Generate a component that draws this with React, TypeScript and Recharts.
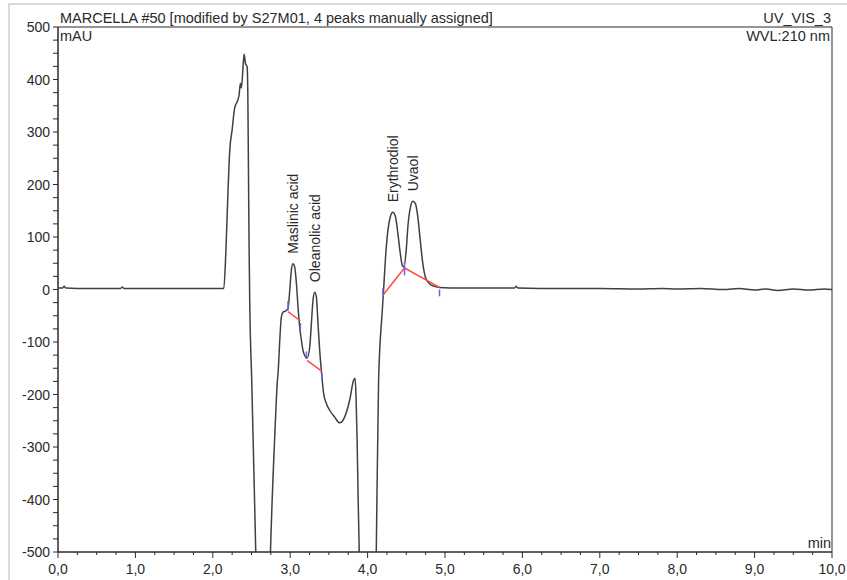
import React from 'react';
import {
  ComposedChart,
  Line,
  Scatter,
  XAxis,
  YAxis,
  ReferenceArea,
  ReferenceLine,
} from 'recharts';

// retention time (min) and signal (mAU)
const times = [
  0.0, 0.06, 0.08, 0.1, 0.4, 0.81, 0.83, 0.85, 1.3, 1.7, 2.1, 2.142,
  2.168, 2.197, 2.219, 2.249, 2.284, 2.314, 2.339, 2.357, 2.37, 2.391, 2.404, 2.422,
  2.443, 2.452, 2.461, 2.468, 2.477, 2.503, 2.555, 2.6, 2.7, 2.745, 2.8, 2.835,
  2.843, 2.865, 2.886, 2.907, 2.942, 2.972, 2.994, 3.015, 3.036, 3.058, 3.08, 3.101,
  3.123, 3.145, 3.165, 3.2, 3.217, 3.252, 3.274, 3.294, 3.316, 3.338, 3.359, 3.381,
  3.406, 3.432, 3.467, 3.51, 3.574, 3.639, 3.703, 3.768, 3.819, 3.838, 3.85, 3.865,
  3.878, 3.892, 3.92, 4.08, 4.112, 4.142, 4.19, 4.206, 4.232, 4.262, 4.293, 4.326,
  4.361, 4.391, 4.422, 4.448, 4.468, 4.499, 4.52, 4.551, 4.585, 4.619, 4.649, 4.68,
  4.714, 4.748, 4.8, 4.865, 4.929, 5.2, 5.6, 5.9, 5.92, 5.94, 6.5, 7.0,
  7.5, 7.8, 8.0, 8.3, 8.6, 8.8, 9.0, 9.15, 9.3, 9.5, 9.7, 9.9, 10.0,
];
const signal = [
  3, 3, 6, 3, 2, 2, 5, 2, 2, 2, 2, 2,
  69, 189, 265, 303, 347, 357, 370, 393, 384, 424, 448, 431,
  424, 380, 221, 94, -21, -174, -500, -780, -780, -500, -281, -173,
  -160, -97, -52, -43, -41, -36, -2, 37, 49, 43, 12, -33,
  -72, -97, -116, -129, -131, -110, -64, -21, -5, -14, -64, -116,
  -160, -198, -217, -230, -243, -254, -243, -211, -173, -169, -200, -290,
  -400, -500, -800, -800, -500, -173, -40, -2, 62, 112, 138, 147,
  138, 107, 69, 46, 43, 75, 119, 155, 168, 163, 138, 94,
  49, 23, 11, 6, 4, 3, 3, 3, 6, 3, 2, 2,
  1, 2, 1, 2, 0, 2, -1, 1, -2, 1, -1, 1, 0,
];

const peakNames = ['Maslinic acid', 'Oleanolic acid', 'Erythrodiol', 'Uvaol'];
const peakTimes = [3.036, 3.316, 4.326, 4.585];
const peakHeights = [49, -5, 147, 168];

// integration baselines (red) and peak delimiters (blue)
const baselines = [
  { t1: 2.972, v1: -42, t2: 3.132, v2: -60 },
  { t1: 3.217, v1: -135, t2: 3.411, v2: -156 },
  { t1: 4.197, v1: -11, t2: 4.477, v2: 41 },
  { t1: 4.477, v1: 41, t2: 4.929, v2: 4 },
];
const delimiters = [
  { t: 2.972, top: -22, bottom: -40 },
  { t: 3.132, top: -64, bottom: -76 },
  { t: 3.209, top: -118, bottom: -132 },
  { t: 3.411, top: -160, bottom: -172 },
  { t: 4.197, top: 2, bottom: -10 },
  { t: 4.477, top: 52, bottom: 27 },
  { t: 4.929, top: 0, bottom: -13 },
];

const xMajor = [0, 1, 2, 3, 4, 5, 6, 7, 8, 9, 10];
const yMajor = [-500, -400, -300, -200, -100, 0, 100, 200, 300, 400, 500];

const xTicks = xMajor.flatMap((m) => (m < 10 ? [m, m + 0.25, m + 0.5, m + 0.75] : [m]));
const yTicks = yMajor.flatMap((m) => (m < 500 ? [m, m + 25, m + 50, m + 75] : [m]));

const trace = times.map((t, i) => ({ t, v: signal[i] }));
const peaks = peakNames.map((name, i) => ({ t: peakTimes[i], v: peakHeights[i], name }));

const FONT = '"Liberation Sans", Arial, Helvetica, sans-serif';
const INK = '#2a2a2a';

const XTick = (props: any) => {
  const { x, y, payload } = props;
  const major = Number.isInteger(payload.value);
  return (
    <g>
      <line x1={x} x2={x} y1={y} y2={y + (major ? 6 : 3)} stroke={INK} />
      {major && (
        <text x={x} y={y + 22} textAnchor="middle" fontSize={14} fontFamily={FONT} fill={INK}>
          {payload.value.toFixed(1).replace('.', ',')}
        </text>
      )}
    </g>
  );
};

const YTick = (props: any) => {
  const { x, y, payload } = props;
  const major = payload.value % 100 === 0;
  return (
    <g>
      <line x1={x - 5} x2={x} y1={y} y2={y} stroke={INK} />
      {major && (
        <text x={x - 8} y={y + 5} textAnchor="end" fontSize={14} fontFamily={FONT} fill={INK}>
          {payload.value}
        </text>
      )}
    </g>
  );
};

const PeakLabel = (props: any) => {
  const { cx, cy, payload } = props;
  const x = cx;
  const y = cy - 10;
  return (
    <text
      x={x}
      y={y}
      transform={`rotate(-90 ${x} ${y})`}
      dominantBaseline="central"
      fontSize={14}
      fontFamily={FONT}
      fill={INK}
    >
      {payload.name}
    </text>
  );
};

export default function App() {
  return (
    <div style={{ position: 'absolute', left: 0, top: 0, background: '#fff' }}>
      <ComposedChart
        width={847}
        height={580}
        data={trace}
        margin={{ top: 27, right: 15, bottom: 0, left: 0 }}
      >
        <rect x={9} y={4} width={900} height={700} fill="none" stroke="#b8b8b8" />
        <XAxis
          type="number"
          dataKey="t"
          domain={[0, 10]}
          ticks={xTicks}
          interval={0}
          allowDataOverflow
          height={28}
          tickSize={0}
          tickMargin={0}
          tickLine={false}
          tick={XTick}
          stroke={INK}
        />
        <YAxis
          type="number"
          domain={[-500, 500]}
          ticks={yTicks}
          interval={0}
          allowDataOverflow
          width={58}
          tickSize={0}
          tickMargin={0}
          tickLine={false}
          tick={YTick}
          stroke={INK}
        />
        <ReferenceArea x1={0} x2={10} y1={-500} y2={500} fill="none" stroke={INK} strokeOpacity={1} />
        <Line
          dataKey="v"
          type="monotone"
          dot={false}
          stroke="#404040"
          strokeWidth={1.5}
          isAnimationActive={false}
        />
        {baselines.map((b, i) => (
          <ReferenceLine
            key={'b' + i}
            segment={[{ x: b.t1, y: b.v1 }, { x: b.t2, y: b.v2 }]}
            stroke="#ff4a4a"
            strokeWidth={1.5}
          />
        ))}
        {delimiters.map((d, i) => (
          <ReferenceLine
            key={'d' + i}
            segment={[{ x: d.t, y: d.top }, { x: d.t, y: d.bottom }]}
            stroke="#6464ff"
            strokeWidth={1.5}
          />
        ))}
        <Scatter data={peaks} dataKey="v" shape={PeakLabel} isAnimationActive={false} />
        <text x={60} y={23} fontSize={14.5} fontFamily={FONT} fill={INK}>
          MARCELLA #50 [modified by S27M01, 4 peaks manually assigned]
        </text>
        <text x={831} y={23} textAnchor="end" fontSize={14.5} fontFamily={FONT} fill={INK}>
          UV_VIS_3
        </text>
        <text x={60} y={41} fontSize={14.5} fontFamily={FONT} fill={INK}>
          mAU
        </text>
        <text x={830} y={41} textAnchor="end" fontSize={14.5} fontFamily={FONT} fill={INK}>
          WVL:210 nm
        </text>
        <text x={831} y={548} textAnchor="end" fontSize={14.5} fontFamily={FONT} fill={INK}>
          min
        </text>
      </ComposedChart>
    </div>
  );
}
